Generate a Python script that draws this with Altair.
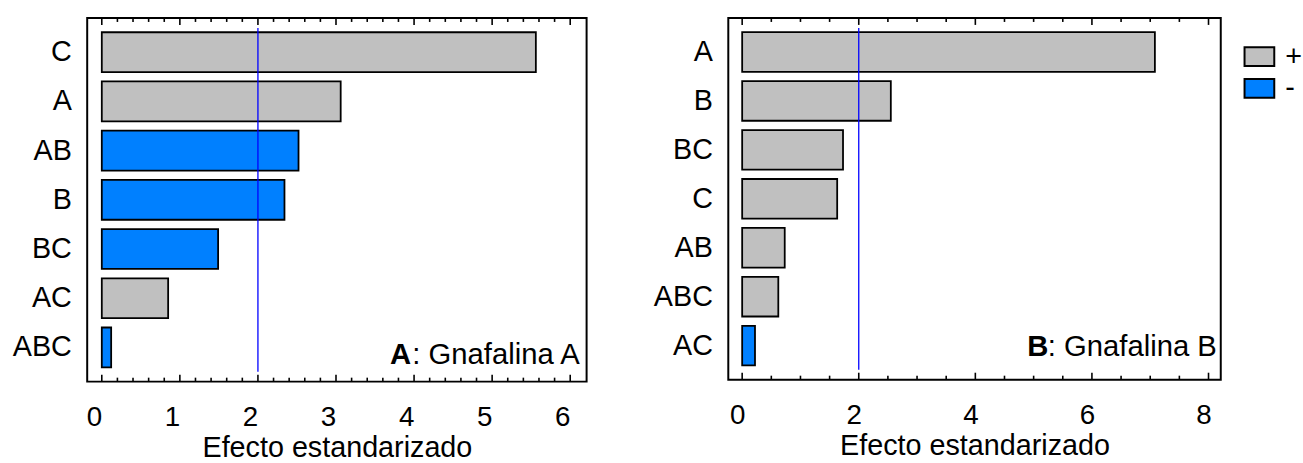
import altair as alt
import pandas as pd

# ---- data ----
factors_a = ["C", "A", "AB", "B", "BC", "AC", "ABC"]
effects_a = [5.56, 3.06, 2.52, 2.34, 1.49, 0.85, 0.12]
signs_a = ["+", "+", "-", "-", "-", "+", "-"]

factors_b = ["A", "B", "BC", "C", "AB", "ABC", "AC"]
effects_b = [7.08, 2.55, 1.73, 1.63, 0.73, 0.62, 0.22]
signs_b = ["+", "+", "+", "+", "+", "+", "-"]

crit_value = [2.0]

labels_a = [0, 1, 2, 3, 4, 5, 6]
minor_a = [0.2, 0.4, 0.6, 0.8, 1.2, 1.4, 1.6, 1.8, 2.2, 2.4, 2.6, 2.8,
           3.2, 3.4, 3.6, 3.8, 4.2, 4.4, 4.6, 4.8, 5.2, 5.4, 5.6, 5.8]
labels_b = [0, 2, 4, 6, 8]
minor_b = [0.5, 1, 1.5, 2.5, 3, 3.5, 4.5, 5, 5.5, 6.5, 7, 7.5]

sign_domain = ["+", "-"]
sign_colors = ["#c0c0c0", "#0080ff"]

FONT = "Liberation Sans"
XTITLE = "Efecto estandarizado"


def panel(factors, effects, signs, domain, major, minor, tag, name,
          width, height, label_dx, legend, ann_x, ann_y):
    df = pd.DataFrame({"effect": effects, "factor": factors, "sign": signs})
    xscale = alt.Scale(domain=domain, nice=False, zero=False)
    yscale = alt.Scale(paddingInner=0.19, paddingOuter=0.29)
    xaxis = alt.Axis(values=major, title=XTITLE,
                     grid=False, domain=False, ticks=False,
                     labelFontSize=28, labelFont=FONT, labelColor="black",
                     labelPadding=22, labelOffset=label_dx, labelFlush=False,
                     titleFontSize=29, titleFont=FONT, titleFontWeight="normal",
                     titleColor="black", titlePadding=3)

    bars = alt.Chart(df).mark_bar(stroke="black", strokeWidth=1.8).encode(
        x=alt.X("effect:Q", scale=xscale, axis=xaxis, title=XTITLE),
        x2=alt.datum(0),
        y=alt.Y("factor:N", sort=factors, scale=yscale,
                axis=alt.Axis(title=None, domain=False, ticks=False,
                              labelFontSize=29, labelFont=FONT, labelColor="black",
                              labelPadding=16)),
        color=alt.Color("sign:N",
                        scale=alt.Scale(domain=sign_domain, range=sign_colors),
                        legend=legend),
    )

    tick_major = pd.DataFrame({"effect": major})
    tick_minor = pd.DataFrame({"effect": minor})
    layers = [bars]
    for tdf, ln in ((tick_major, 7), (tick_minor, 4)):
        for y0, y1 in ((height, height - ln), (0, ln)):
            layers.append(
                alt.Chart(tdf).mark_rule(color="black", strokeWidth=1.6).encode(
                    x=alt.X("effect:Q", scale=xscale, axis=xaxis, title=XTITLE),
                    y=alt.value(y0), y2=alt.value(y1))
            )

    crit = alt.Chart(pd.DataFrame({"effect": crit_value})).mark_rule(
        color="#0000ff", strokeWidth=1.3).encode(
        x=alt.X("effect:Q", scale=xscale, axis=xaxis, title=XTITLE),
        y=alt.value(10), y2=alt.value(height - 10))
    layers.append(crit)

    reg = alt.Chart(pd.DataFrame({"t": [": " + name]})).mark_text(
        align="right", baseline="alphabetic", fontSize=29.5, font=FONT, color="black"
    ).encode(text="t:N", x=alt.value(ann_x), y=alt.value(ann_y))
    bold = alt.Chart(pd.DataFrame({"t": [tag]})).mark_text(
        align="right", baseline="alphabetic", fontSize=29.5, font=FONT,
        fontWeight="bold", color="black", dx=-170
    ).encode(text="t:N", x=alt.value(ann_x), y=alt.value(ann_y))
    layers += [reg, bold]

    return alt.layer(*layers).properties(width=width, height=height)


left = panel(factors_a, effects_a, signs_a, [-0.187, 6.21], labels_a, minor_a,
             "A", "Gnafalina A", 504, 367, -8, None, 497, 349)

legend_b = alt.Legend(title=None, orient="none", legendX=520, legendY=23,
                      symbolType="M-1,-0.633H1V0.633H-1Z", symbolSize=900,
                      symbolStrokeColor="black", symbolStrokeWidth=2,
                      symbolOpacity=1, labelFontSize=29, labelFont=FONT,
                      labelColor="black", labelOffset=10, padding=0,
                      rowPadding=1)
right = panel(factors_b, effects_b, signs_b, [-0.238, 8.21], labels_b, minor_b,
              "B", "Gnafalina B", 497, 365, -5, legend_b, 493, 341)

chart = alt.hconcat(left, right, spacing=65).resolve_scale(
    color="independent", x="independent", y="independent"
).properties(
    padding={"left": 11, "top": 14, "right": 0, "bottom": 0},
    background="white",
).configure_view(stroke="black", strokeWidth=2)

chart.save("out.html", embed_options={"renderer": "svg", "actions": False})
